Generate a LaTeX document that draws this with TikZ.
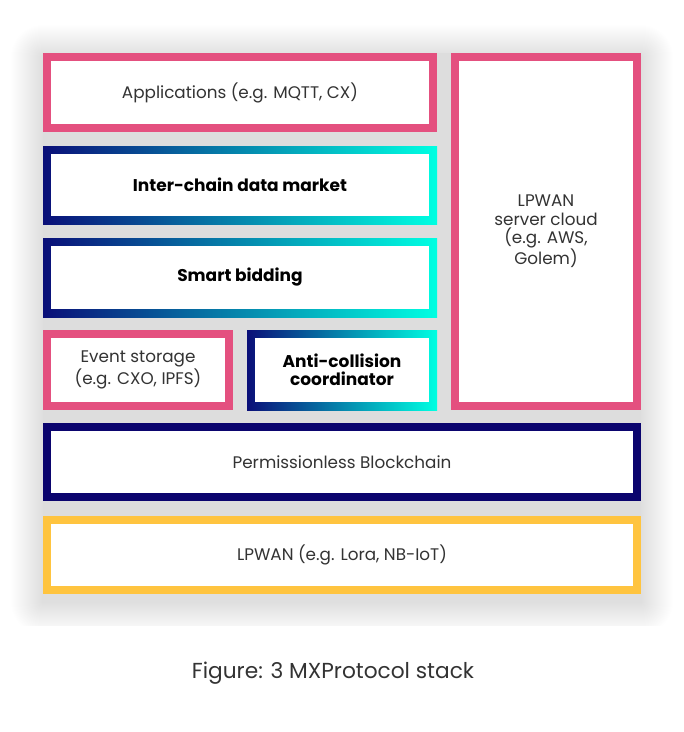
\documentclass[tikz,border=0pt]{standalone}
\usepackage{fontspec}
\setmainfont{Poppins}
\usetikzlibrary{shadings}
\definecolor{pinkb}{HTML}{E4507F}
\definecolor{navyg}{HTML}{0A0F78}
\definecolor{cyang}{HTML}{00FFE2}
\definecolor{navyb}{HTML}{0B046E}
\definecolor{yellowb}{HTML}{FFC43F}
\definecolor{txt}{HTML}{333333}
\definecolor{gapgrey}{HTML}{DDDDDD}
\tikzset{
  plainbox/.style={draw=#1, line width=8pt, fill=white, align=center, text=txt, font=\fontsize{16.8}{18.5}\selectfont, inner sep=0pt},
  gradbox/.style={left color=navyg, right color=cyang, align=center, text=black, font=\fontsize{17}{18.5}\selectfont\bfseries, inner sep=0pt,
    path picture={\fill[white] ([shift={(8pt,-8pt)}]path picture bounding box.north west) rectangle ([shift={(-8pt,8pt)}]path picture bounding box.south east);}},
  captionstyle/.style={text=txt, font=\fontsize{21.7}{24}\selectfont, inner sep=0pt}
}
\begin{document}
\begin{tikzpicture}[x=1pt,y=-1pt]
\useasboundingbox (0,0) rectangle (684,732);
\fill[white] (0,0) rectangle (684,732);
% soft shadow
\begin{scope}
\clip (0,0) rectangle (684,625);
\foreach \d in {1,...,32}{
  \fill[black, opacity=0.0045, rounded corners=\d pt] (43-\d,53-\d+4) rectangle (641+\d,594+\d+8);
}
\end{scope}
\fill[gapgrey] (43,53) rectangle (641,594);
% boxes
\node[plainbox=pinkb, minimum width=386pt, minimum height=71pt] (app) at (240,92.5) {Applications (e.g. MQTT, CX)};
\node[gradbox, minimum width=394pt, minimum height=78pt] (market) at (240,185) {Inter-chain data market};
\node[gradbox, minimum width=394pt, minimum height=79pt] (bid) at (240,277.5) {Smart bidding};
\node[plainbox=pinkb, minimum width=182pt, minimum height=72pt] (event) at (138,370) {Event storage\\(e.g. CXO, IPFS)};
\node[gradbox, minimum width=190pt, minimum height=80pt] (anti) at (342,370) {Anti-collision\\coordinator};
\node[plainbox=pinkb, minimum width=182pt, minimum height=349pt] (cloud) at (546,231.5) {LPWAN\\server cloud\\(e.g. AWS,\\Golem)};
\node[plainbox=navyb, minimum width=590pt, minimum height=70pt] (chain) at (342,462) {Permissionless Blockchain};
\node[plainbox=yellowb, minimum width=590pt, minimum height=70pt] (lpwan) at (342,555) {LPWAN (e.g. Lora, NB-IoT)};
\node[captionstyle] (cap) at (333,673) {Figure: 3 MXProtocol stack};
\end{tikzpicture}
\end{document}
